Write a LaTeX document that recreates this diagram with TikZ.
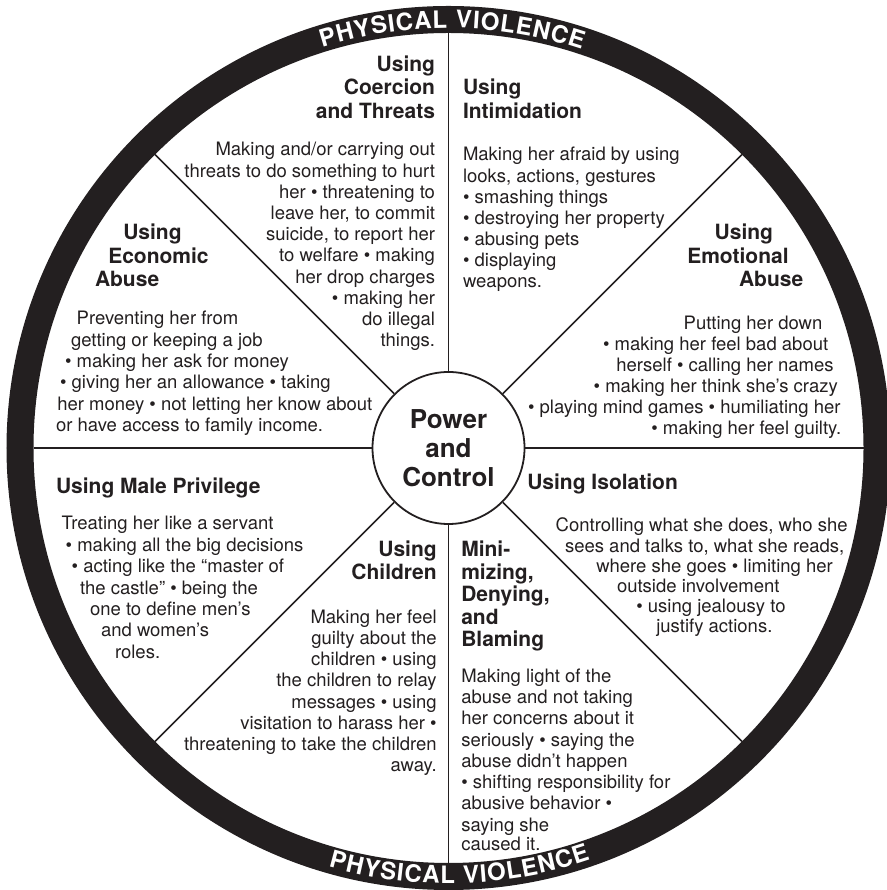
\documentclass[tikz,border=0pt]{standalone}
\usepackage{fontspec}
\setmainfont{TeX Gyre Heros}
\usetikzlibrary{decorations.text}
\definecolor{ink}{HTML}{231F20}
\tikzset{
  spoke/.style={draw=ink, line width=1.6pt},
  bodyt/.style={inner sep=0pt, outer sep=0pt, text=ink, font=\fontsize{18.5}{21}\selectfont},
  headt/.style={inner sep=0pt, outer sep=0pt, text=ink, font=\bfseries\fontsize{21}{23}\selectfont},
  atl/.style={anchor=base west},
  atr/.style={anchor=base east},
  ringtext/.style={decorate, decoration={text along path, text color=white,
      text={|\bfseries\fontsize{24}{24}\selectfont|PHYSICAL VIOLENCE}, text align={fit to path}}}
}
\begin{document}
\begin{tikzpicture}[x=1pt,y=1pt]
\useasboundingbox (0,0) rectangle (886,890);
\coordinate (C) at (448.5,442);
% outer ring
\draw[ink, line width=27pt] (C) circle[radius=428.5];
\path[ringtext] ([shift={(107.5:420)}]C) arc[start angle=107.5, end angle=71.5, radius=420];
\path[ringtext] ([shift={(-106:435.5)}]C) arc[start angle=-106, end angle=-71, radius=435.5];
% hub
\node[circle, draw=ink, line width=1.8pt, fill=white, minimum size=152pt, inner sep=0pt,
      text=ink, align=center, font=\bfseries\fontsize{26}{29}\selectfont] (hub) at (C) {Power\\and\\Control};
% spokes
\foreach \a in {0,45,...,315} {
  \coordinate (rim\a) at ([shift={(\a:415)}]C);
  \draw[spoke] (hub.\a) -- (rim\a);
}
\begin{scope}[yshift=890pt, y=-1pt]
% Coercion and Threats
\node[headt,atr] (co1) at (435,71.7) {Using};
\node[headt,atr] (co2) at (435,95) {Coercion};
\node[headt,atr] (co3) at (435,118.3) {and Threats};
\node[bodyt,atr] (cb1) at (435,156) {Making and/or carrying out};
\node[bodyt,atr] (cb2) at (435,177.2) {threats to do something to hurt};
\node[bodyt,atr] (cb3) at (435,198.4) {her • threatening to};
\node[bodyt,atr] (cb4) at (435,219.6) {leave her, to commit};
\node[bodyt,atr] (cb5) at (435,240.8) {suicide, to report her};
\node[bodyt,atr] (cb6) at (435,262) {to welfare • making};
\node[bodyt,atr] (cb7) at (435,283.2) {her drop charges};
\node[bodyt,atr] (cb8) at (435,304.4) {• making her};
\node[bodyt,atr] (cb9) at (435,325.6) {do illegal};
\node[bodyt,atr] (cb10) at (435,346.8) {things.};
% Intimidation
\node[headt,atl] (in1) at (463,95) {Using};
\node[headt,atl] (in2) at (463,118.3) {Intimidation};
\node[bodyt,atl] (ib1) at (463,161) {Making her afraid by using};
\node[bodyt,atl] (ib2) at (463,182.1) {looks, actions, gestures};
\node[bodyt,atl] (ib3) at (463,203.2) {• smashing things};
\node[bodyt,atl] (ib4) at (463,224.3) {• destroying her property};
\node[bodyt,atl] (ib5) at (463,245.4) {• abusing pets};
\node[bodyt,atl] (ib6) at (463,266.5) {• displaying};
\node[bodyt,atl] (ib7) at (463,287.6) {weapons.};
% Emotional Abuse
\node[headt,atl] (em1) at (714.7,240) {Using};
\node[headt,atl] (em2) at (687.3,263.3) {Emotional};
\node[headt,atl] (em3) at (739,286.7) {Abuse};
\node[bodyt,atl] (eb1) at (683.7,330) {Putting her down};
\node[bodyt,atl] (eb2) at (603,351) {• making her feel bad about};
\node[bodyt,atl] (eb3) at (616.3,372) {herself • calling her names};
\node[bodyt,atl] (eb4) at (593.7,393) {• making her think she's crazy};
\node[bodyt,atl] (eb5) at (528,414) {• playing mind games • humiliating her};
\node[bodyt,atl] (eb6) at (651.3,435) {• making her feel guilty.};
% Economic Abuse
\node[headt,atl] (ec1) at (123.3,240) {Using};
\node[headt,atl] (ec2) at (108.3,263.3) {Economic};
\node[headt,atl] (ec3) at (95,286.7) {Abuse};
\node[bodyt,atl] (xb1) at (76.7,325) {Preventing her from};
\node[bodyt,atl] (xb2) at (71,346.3) {getting or keeping a job};
\node[bodyt,atl] (xb3) at (65,367.6) {• making her ask for money};
\node[bodyt,atl] (xb4) at (60,389) {• giving her an allowance • taking};
\node[bodyt,atl] (xb5) at (57.3,410.3) {her money • not letting her know about};
\node[bodyt,atl] (xb6) at (56,431.7) {or have access to family income.};
% Male Privilege
\node[headt,atl] (mp1) at (56,493.3) {Using Male Privilege};
\node[bodyt,atl] (mb1) at (61.7,530) {Treating her like a servant};
\node[bodyt,atl] (mb2) at (65.7,551.4) {• making all the big decisions};
\node[bodyt,atl] (mb3) at (71.7,572.8) {• acting like the “master of};
\node[bodyt,atl] (mb4) at (80,594.2) {the castle” • being the};
\node[bodyt,atl] (mb5) at (90,615.6) {one to define men’s};
\node[bodyt,atl] (mb6) at (101,637) {and women’s};
\node[bodyt,atl] (mb7) at (115,658.4) {roles.};
% Children
\node[headt,atr] (ch1) at (436.7,556.7) {Using};
\node[headt,atr] (ch2) at (436.7,580) {Children};
\node[bodyt,atr] (hb1) at (436.7,623.3) {Making her feel};
\node[bodyt,atr] (hb2) at (436.7,644.5) {guilty about the};
\node[bodyt,atr] (hb3) at (436.7,665.7) {children • using};
\node[bodyt,atr] (hb4) at (436.7,686.9) {the children to relay};
\node[bodyt,atr] (hb5) at (436.7,708.1) {messages • using};
\node[bodyt,atr] (hb6) at (436.7,729.3) {visitation to harass her •};
\node[bodyt,atr] (hb7) at (436.7,750.5) {threatening to take the children};
\node[bodyt,atr] (hb8) at (436.7,771.7) {away.};
% Isolation
\node[headt,atl] (is1) at (527.3,490) {Using Isolation};
\node[bodyt,atl] (sb1) at (555.7,532) {Controlling what she does, who she};
\node[bodyt,atl] (sb2) at (565,552.2) {sees and talks to, what she reads,};
\node[bodyt,atl] (sb3) at (596.3,572.4) {where she goes • limiting her};
\node[bodyt,atl] (sb4) at (617,592.6) {outside involvement};
\node[bodyt,atl] (sb5) at (636.3,612.8) {• using jealousy to};
\node[bodyt,atl] (sb6) at (656.3,633) {justify actions.};
% Minimizing, Denying, and Blaming
\node[headt,atl] (mi1) at (461.3,556.7) {Mini-};
\node[headt,atl] (mi2) at (461.3,579.2) {mizing,};
\node[headt,atl] (mi3) at (461.3,601.7) {Denying,};
\node[headt,atl] (mi4) at (461.3,624.2) {and};
\node[headt,atl] (mi5) at (461.3,646.7) {Blaming};
\node[bodyt,atl] (db1) at (461.3,682.3) {Making light of the};
\node[bodyt,atl] (db2) at (461.3,703.6) {abuse and not taking};
\node[bodyt,atl] (db3) at (461.3,724.8) {her concerns about it};
\node[bodyt,atl] (db4) at (461.3,746.1) {seriously • saying the};
\node[bodyt,atl] (db5) at (461.3,767.3) {abuse didn't happen};
\node[bodyt,atl] (db6) at (461.3,788.6) {• shifting responsibility for};
\node[bodyt,atl] (db7) at (461.3,809.8) {abusive behavior •};
\node[bodyt,atl] (db8) at (461.3,831.1) {saying she};
\node[bodyt,atl] (db9) at (461.3,850.8) {caused it.};
\end{scope}
\end{tikzpicture}
\end{document}
